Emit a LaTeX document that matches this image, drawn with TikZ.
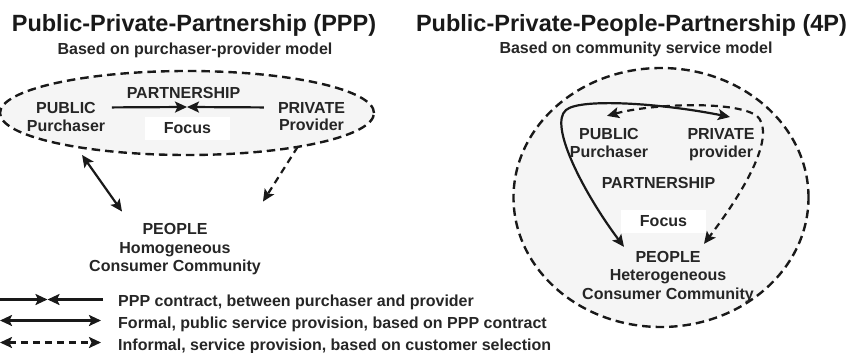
\documentclass[tikz,border=0pt]{standalone}
\usepackage{fontspec}
\setmainfont{Liberation Sans}
\usetikzlibrary{positioning,shapes.geometric,arrows.meta}

\begin{document}
\begin{tikzpicture}[x=1pt, y=-1pt, % pixel units, y downwards
title/.style={font=\fontsize{23.5}{28}\selectfont\bfseries, text=black!90, inner sep=0pt},
label/.style={font=\fontsize{16}{18.5}\selectfont\bfseries, text=black!85, align=center, inner sep=0pt},
area/.style={ellipse, draw=black!90, line width=2.4pt, dash pattern=on 8.5pt off 5pt, fill=black!4, inner sep=0pt, outer sep=0pt},
focusbox/.style={rectangle, fill=white, minimum width=85pt, minimum height=23pt, inner sep=0pt},
contract/.style={-{Stealth[length=12pt, width=11pt, inset=2.5pt]}, line width=2.2pt, draw=black!90},
formal/.style={{Stealth[length=12pt, width=11pt, inset=2.5pt]}-{Stealth[length=12pt, width=11pt, inset=2.5pt]}, line width=2.2pt, draw=black!90},
informal/.style={formal, dash pattern=on 7pt off 5pt},
provide/.style={contract, dash pattern=on 7pt off 5pt},
]
\useasboundingbox (0,0) rectangle (862,353);

% left: PPP
\node[title, anchor=base](ppp_title) at (194,32){Public-Private-Partnership (PPP)};
\node[label, anchor=base](ppp_subtitle) at (195,55){Based on purchaser-provider model};

\node[area, minimum width=374pt, minimum height=84pt](ppp_ellipse) at (187,113){};
\node[focusbox](ppp_focus) at (187.5,128.5){};
\node[label] at (ppp_focus){Focus};

\node[label](ppp_partnership) at (183.5,92.5){PARTNERSHIP};
\node[label](ppp_public) at (66,107.5){PUBLIC};
\node[label](ppp_purchaser)[below=6pt of ppp_public]{Purchaser};
\node[label](ppp_private) at (311.5,107.5){PRIVATE};
\node[label](ppp_provider)[below=6pt of ppp_private]{Provider};
\coordinate (ppp_meet) at (187,107);

\node[label](ppp_people) at (175,249.5){PEOPLE\\Homogeneous\\Consumer Community};

\draw[contract, shorten <=16pt] (ppp_public.east) -- (ppp_meet);
\draw[contract, shorten <=14pt] (ppp_private.west) -- (ppp_meet);

\draw[formal, shorten <=10pt] (ppp_ellipse.197) -- ([shift={(33,-12)}]ppp_people.north west);
\draw[provide] (ppp_ellipse.343) -- ([shift={(2,-22)}]ppp_people.north east);

% right: 4P
\node[title, anchor=base](p4_title) at (631.5,32){Public-Private-People-Partnership (4P)};
\node[label, anchor=base](p4_subtitle) at (636,54){Based on community service model};

\node[area, minimum width=295pt, minimum height=259pt](p4_circle) at (661,197.5){};
\node[focusbox](p4_focus) at (663.5,221){};
\node[label] at (p4_focus){Focus};

\node[label](p4_public) at (609,143){PUBLIC\\Purchaser};
\node[label](p4_private) at (721,144.6){PRIVATE\\provider};
\node[label](p4_partnership) at (658.5,183){PARTNERSHIP};
\node[label](p4_people) at (668,276.8){PEOPLE\\Heterogeneous\\Consumer Community};

\draw[informal] ([shift={(-2,-12)}]p4_public.north) .. controls (650,104) and (735,100) .. (757,116)
  .. controls (772,130) and (760,170) .. ([shift={(36,-7)}]p4_people.north);
\draw[formal] ([shift={(-44,-4)}]p4_people.north) .. controls (585,195) and (548,125) .. (566,110)
  .. controls (580,98) and (660,103) .. ([shift={(9,-11)}]p4_private.north);

% legend
\coordinate (lg_contract_start) at (0,299.5);
\coordinate (lg_contract_mid) at (47.5,299.5);
\coordinate (lg_formal_start) at (0,320.5);
\coordinate (lg_informal_start) at (0,342.5);
\node[label, anchor=base west](lg_contract) at (118,306){PPP contract, between purchaser and provider};
\node[label, anchor=base west](lg_formal) at (118,328){Formal, public service provision, based on PPP contract};
\node[label, anchor=base west](lg_informal) at (118,350){Informal, service provision, based on customer selection};

\draw[contract] (lg_contract_start) -- (lg_contract_mid);
\draw[contract, shorten <=15pt] (lg_contract_start -| lg_contract.west) -- (lg_contract_mid);
\draw[formal, shorten >=17pt] (lg_formal_start) -- (lg_formal_start -| lg_formal.west);
\draw[informal, shorten >=17pt] (lg_informal_start) -- (lg_informal_start -| lg_informal.west);

\end{tikzpicture}
\end{document}
